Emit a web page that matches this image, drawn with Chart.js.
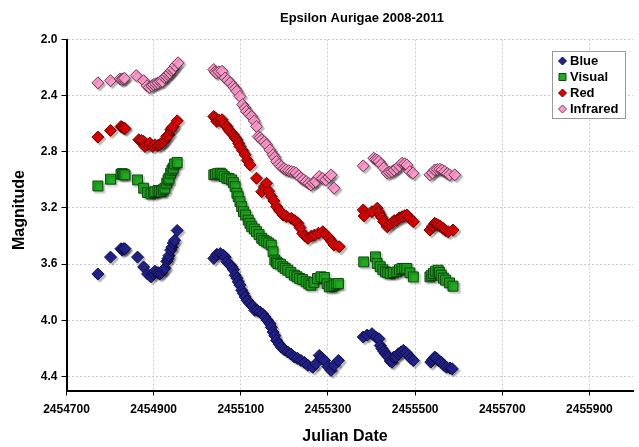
<!DOCTYPE html>
<html>
<head>
  <script src="https://cdn.jsdelivr.net/npm/chart.js"></script>
  <style>
    html, body { margin: 0; padding: 0; background: #fff; overflow: hidden; }
  </style>
</head>
<body>
  <canvas id="chart" width="641" height="447" style="display:block; width:641px; height:447px;"></canvas>

  <script>
    // axis ticks
    const xTicks = [2454700, 2454900, 2455100, 2455300, 2455500, 2455700, 2455900];
    const yTicks = [2.0, 2.4, 2.8, 3.2, 3.6, 4.0, 4.4];
    const seriesNames = ['Blue', 'Visual', 'Red', 'Infrared'];

    // Blue
    const blueJD = [2454772, 2454801, 2454825, 2454828, 2454831, 2454834, 2454863, 2454877, 2454886, 2454894, 2454900, 2454903, 2454910, 2454914, 2454918, 2454922, 2454926, 2454930, 2454933, 2454935, 2454939, 2454942, 2454945, 2454948, 2454954,
      2455038, 2455045, 2455053, 2455060, 2455064, 2455068, 2455074, 2455079, 2455083, 2455087, 2455091, 2455094, 2455098, 2455102, 2455106, 2455110, 2455115, 2455121, 2455127, 2455132, 2455138, 2455144, 2455150, 2455155, 2455161, 2455167, 2455170, 2455174, 2455178, 2455182, 2455188, 2455193, 2455200, 2455208, 2455215, 2455223, 2455230, 2455238, 2455246, 2455254, 2455265, 2455272, 2455280, 2455286, 2455292, 2455300, 2455307, 2455314, 2455324,
      2455381, 2455390, 2455401, 2455410, 2455417, 2455420, 2455424, 2455428, 2455432, 2455436, 2455439, 2455443, 2455447, 2455451, 2455456, 2455462, 2455468, 2455473, 2455479, 2455485, 2455490, 2455496,
      2455536, 2455540, 2455545, 2455549, 2455555, 2455560, 2455566, 2455572, 2455580, 2455585];
    const blueMag = [3.67, 3.55, 3.49, 3.50, 3.49, 3.49, 3.55, 3.62, 3.67, 3.69, 3.67, 3.65, 3.66, 3.67, 3.66, 3.64, 3.63, 3.58, 3.56, 3.54, 3.50, 3.48, 3.45, 3.43, 3.36,
      3.559, 3.53, 3.524, 3.536, 3.55, 3.584, 3.60, 3.619, 3.64, 3.679, 3.70, 3.726, 3.75, 3.786, 3.81, 3.834, 3.86, 3.881, 3.90, 3.929, 3.93, 3.941, 3.955, 3.976, 4.00, 4.024, 4.05, 4.084, 4.11, 4.143, 4.17, 4.191, 4.21, 4.226, 4.24, 4.262, 4.27, 4.286, 4.30, 4.321, 4.334, 4.31, 4.25, 4.27, 4.286, 4.33, 4.357, 4.321, 4.286,
      4.119, 4.105, 4.095, 4.12, 4.131, 4.18, 4.202, 4.22, 4.238, 4.25, 4.262, 4.29, 4.298, 4.262, 4.26, 4.238, 4.225, 4.214, 4.23, 4.25, 4.27, 4.286,
      4.298, 4.28, 4.262, 4.27, 4.29, 4.298, 4.32, 4.334, 4.34, 4.345];

    // Visual
    const visualJD = [2454772, 2454801, 2454825, 2454828, 2454831, 2454834, 2454863, 2454877, 2454886, 2454894, 2454900, 2454903, 2454910, 2454914, 2454918, 2454922, 2454926, 2454930, 2454933, 2454935, 2454939, 2454942, 2454945, 2454948, 2454954,
      2455038, 2455042, 2455047, 2455053, 2455057, 2455062, 2455068, 2455073, 2455079, 2455083, 2455087, 2455091, 2455094, 2455098, 2455102, 2455106, 2455111, 2455117, 2455121, 2455125, 2455131, 2455136, 2455142, 2455148, 2455153, 2455159, 2455164, 2455170, 2455174, 2455178, 2455182, 2455185, 2455191, 2455197, 2455202, 2455208, 2455215, 2455223, 2455229, 2455235, 2455242, 2455250, 2455256, 2455261, 2455268, 2455276, 2455284, 2455292, 2455298, 2455303, 2455309, 2455314, 2455320, 2455324,
      2455382, 2455409, 2455413, 2455420, 2455426, 2455432, 2455437, 2455443, 2455450, 2455458, 2455464, 2455470, 2455476, 2455481, 2455488, 2455496,
      2455534, 2455538, 2455542, 2455547, 2455553, 2455556, 2455560, 2455565, 2455570, 2455579, 2455587];
    const visualMag = [3.043, 2.995, 2.96, 2.955, 2.96, 2.964, 3.00, 3.059, 3.09, 3.10, 3.09, 3.084, 3.076, 3.08, 3.084, 3.07, 3.059, 3.024, 3.00, 2.988, 2.952, 2.93, 2.916, 2.886, 2.876,
      2.964, 2.96, 2.955, 2.952, 2.96, 2.975, 2.988, 2.99, 3.00, 3.02, 3.048, 3.095, 3.12, 3.155, 3.19, 3.226, 3.25, 3.286, 3.31, 3.334, 3.35, 3.369, 3.39, 3.416, 3.43, 3.441, 3.45, 3.464, 3.512, 3.571, 3.585, 3.595, 3.60, 3.619, 3.63, 3.643, 3.66, 3.679, 3.69, 3.702, 3.71, 3.726, 3.74, 3.75, 3.73, 3.702, 3.69, 3.695, 3.74, 3.762, 3.76, 3.75, 3.74, 3.738,
      3.584, 3.548, 3.595, 3.619, 3.64, 3.655, 3.66, 3.667, 3.66, 3.655, 3.64, 3.631, 3.63, 3.631, 3.662, 3.691,
      3.691, 3.68, 3.667, 3.65, 3.643, 3.66, 3.679, 3.70, 3.714, 3.734, 3.757];

    // Red
    const redJD = [2454772, 2454801, 2454825, 2454828, 2454831, 2454834, 2454866, 2454872, 2454877, 2454880, 2454886, 2454891, 2454898, 2454903, 2454910, 2454914, 2454918, 2454922, 2454926, 2454930, 2454935, 2454939, 2454942, 2454945, 2454954,
      2455038, 2455042, 2455045, 2455050, 2455057, 2455064, 2455068, 2455072, 2455077, 2455083, 2455087, 2455091, 2455095, 2455098, 2455104, 2455110, 2455115, 2455121, 2455136, 2455148, 2455154, 2455159, 2455164, 2455170, 2455176, 2455182, 2455189, 2455197, 2455205, 2455216, 2455224, 2455231, 2455236, 2455242, 2455248, 2455254, 2455262, 2455269, 2455278, 2455288, 2455295, 2455303, 2455309, 2455314, 2455326,
      2455381, 2455383, 2455401, 2455413, 2455417, 2455420, 2455424, 2455428, 2455436, 2455441, 2455447, 2455452, 2455458, 2455464, 2455470, 2455476, 2455481, 2455488, 2455496,
      2455534, 2455540, 2455545, 2455549, 2455553, 2455558, 2455564, 2455570, 2455576, 2455587];
    const redMag = [2.695, 2.648, 2.62, 2.624, 2.63, 2.634, 2.714, 2.72, 2.726, 2.762, 2.75, 2.738, 2.762, 2.75, 2.755, 2.75, 2.74, 2.73, 2.714, 2.69, 2.679, 2.643, 2.63, 2.619, 2.579,
      2.548, 2.56, 2.584, 2.575, 2.571, 2.607, 2.62, 2.643, 2.66, 2.679, 2.70, 2.714, 2.74, 2.762, 2.79, 2.821, 2.86, 2.893, 2.988, 3.084, 3.05, 3.024, 3.08, 3.119, 3.15, 3.191, 3.22, 3.25, 3.26, 3.274, 3.29, 3.309, 3.34, 3.381, 3.40, 3.416, 3.40, 3.393, 3.38, 3.369, 3.39, 3.416, 3.44, 3.464, 3.476,
      3.214, 3.257, 3.226, 3.202, 3.23, 3.25, 3.27, 3.298, 3.334, 3.32, 3.305, 3.29, 3.286, 3.27, 3.262, 3.255, 3.25, 3.274, 3.298,
      3.357, 3.33, 3.309, 3.315, 3.321, 3.33, 3.345, 3.36, 3.369, 3.357];

    // Infrared
    const irJD = [2454772, 2454801, 2454823, 2454827, 2454830, 2454833, 2454860, 2454877, 2454885, 2454890, 2454896, 2454900, 2454905, 2454910, 2454915, 2454920, 2454925, 2454929, 2454933, 2454937, 2454941, 2454945, 2454950, 2454956,
      2455038, 2455041, 2455044, 2455050, 2455057, 2455064, 2455070, 2455076, 2455083, 2455087, 2455091, 2455098, 2455104, 2455110, 2455113, 2455119, 2455125, 2455131, 2455136, 2455140, 2455144, 2455148, 2455154, 2455159, 2455167, 2455174, 2455178, 2455182, 2455188, 2455193, 2455199, 2455204, 2455210, 2455216, 2455222, 2455227, 2455233, 2455238, 2455244, 2455250, 2455256, 2455261, 2455266, 2455272, 2455280, 2455288, 2455295, 2455302, 2455307, 2455314,
      2455381, 2455405, 2455409, 2455413, 2455417, 2455422, 2455428, 2455436, 2455441, 2455447, 2455452, 2455458, 2455464, 2455470, 2455476, 2455481, 2455488, 2455495,
      2455534, 2455540, 2455545, 2455551, 2455557, 2455562, 2455568, 2455574, 2455579, 2455591];
    const irMag = [2.309, 2.293, 2.281, 2.285, 2.28, 2.276, 2.257, 2.293, 2.33, 2.341, 2.33, 2.321, 2.315, 2.309, 2.30, 2.298, 2.27, 2.262, 2.25, 2.238, 2.22, 2.209, 2.186, 2.166,
      2.214, 2.23, 2.238, 2.23, 2.226, 2.274, 2.29, 2.309, 2.334, 2.35, 2.369, 2.405, 2.464, 2.49, 2.512, 2.53, 2.548, 2.58, 2.619, 2.691, 2.70, 2.714, 2.73, 2.75, 2.786, 2.821, 2.84, 2.869, 2.89, 2.905, 2.92, 2.929, 2.935, 2.941, 2.945, 2.952, 2.97, 2.988, 3.00, 3.012, 3.025, 3.036, 3.02, 3.012, 2.976, 2.99, 3.00, 2.98, 2.964, 3.059,
      2.90, 2.845, 2.855, 2.86, 2.869, 2.89, 2.916, 2.952, 2.945, 2.941, 2.93, 2.916, 2.90, 2.881, 2.885, 2.893, 2.941, 2.952,
      2.964, 2.95, 2.929, 2.925, 2.924, 2.93, 2.941, 2.955, 2.964, 2.964];

    const styles = [
      { fill: '#22228c', line: '#0e0e48', shape: 'rectRot', r: 6 },
      { fill: '#20ab20', line: '#0a4a0a', shape: 'rect', r: 7 },
      { fill: '#e00000', line: '#660000', shape: 'rectRot', r: 6 },
      { fill: '#ff99cc', line: '#6b3a52', shape: 'rectRot', r: 6 }
    ];

    function pairs(xs, ys) {
      return xs.map((x, i) => ({ x: x, y: ys[i] }));
    }

    const seriesData = [pairs(blueJD, blueMag), pairs(visualJD, visualMag), pairs(redJD, redMag), pairs(irJD, irMag)];

    const FONT = '"Liberation Sans", Arial, sans-serif';

    // drop shadow under the markers, like the spreadsheet original
    const shadowPlugin = {
      id: 'shadow',
      beforeDatasetsDraw(chart) {
        const c = chart.ctx;
        c.save();
        c.shadowColor = 'rgba(0,0,0,0.28)';
        c.shadowOffsetX = 2;
        c.shadowOffsetY = 2;
        c.shadowBlur = 1.5;
      },
      afterDatasetsDraw(chart) {
        chart.ctx.restore();
      }
    };

    function marker(c, s, x, y, r) {
      c.beginPath();
      if (s.shape === 'rect') {
        c.rect(x - r, y - r, 2 * r, 2 * r);
      } else {
        c.moveTo(x - r, y); c.lineTo(x, y - r); c.lineTo(x + r, y); c.lineTo(x, y + r); c.closePath();
      }
      c.fillStyle = s.fill; c.fill();
      c.lineWidth = 1; c.strokeStyle = s.line; c.stroke();
    }

    // title, axis titles and the boxed legend
    const labelsPlugin = {
      id: 'labels',
      afterDraw(chart) {
        const c = chart.ctx;
        c.save();
        c.fillStyle = '#000';
        c.textAlign = 'center';
        c.textBaseline = 'middle';
        c.font = 'bold 13px ' + FONT;
        c.fillText('Epsilon Aurigae 2008-2011', 362, 18);
        c.font = 'bold 16px ' + FONT;
        c.fillText('Julian Date', 345, 437);
        c.save();
        c.translate(20, 210);
        c.rotate(-Math.PI / 2);
        c.fillText('Magnitude', 0, 0);
        c.restore();

        // legend
        c.fillStyle = '#fff';
        c.fillRect(552.5, 51.5, 73, 67);
        c.strokeStyle = '#9a9a9a';
        c.lineWidth = 1;
        c.strokeRect(552.5, 51.5, 73, 67);
        c.font = 'bold 13px ' + FONT;
        c.textAlign = 'left';
        seriesNames.forEach((name, i) => {
          const y = 61 + i * 16;
          const s = styles[i];
          marker(c, s, 562.5, y, s.shape === 'rect' ? 3.5 : 4);
          c.fillStyle = '#000';
          c.fillText(name, 570, y + 0.5);
        });
        c.restore();
      }
    };

    new Chart(document.getElementById('chart').getContext('2d'), {
      type: 'scatter',
      data: {
        datasets: seriesData.map((d, i) => ({
          label: seriesNames[i],
          data: d,
          pointStyle: styles[i].shape,
          pointRadius: styles[i].r,
          pointBackgroundColor: styles[i].fill,
          pointBorderColor: styles[i].line,
          pointBorderWidth: 1,
          showLine: false,
          order: 4 - i
        }))
      },
      options: {
        responsive: false,
        animation: false,
        layout: { padding: { top: 39.5, left: 0, right: 0, bottom: 0 } },
        plugins: {
          legend: { display: false },
          title: { display: false },
          tooltip: { enabled: false }
        },
        scales: {
          x: {
            type: 'linear',
            min: 2454700,
            max: 2456000,
            afterBuildTicks: s => { s.ticks = xTicks.map(v => ({ value: v })); },
            afterFit: s => { s.height = 56.5; },
            grid: { color: '#cccccc', lineWidth: 1, tickColor: '#000', tickLength: 5, tickBorderDash: [] },
            border: { display: true, color: '#000', width: 2, dash: [2, 2] },
            ticks: {
              color: '#000',
              font: { family: FONT, size: 12, weight: 'bold' },
              padding: 7,
              maxRotation: 0,
              autoSkip: false,
              callback: v => String(v)
            }
          },
          y: {
            type: 'linear',
            reverse: true,
            min: 2.0,
            max: 4.5,
            afterBuildTicks: s => { s.ticks = yTicks.map(v => ({ value: v })); },
            afterFit: s => { s.width = 66.5; },
            grid: { color: '#cccccc', lineWidth: 1, tickColor: '#000', tickLength: 5, tickBorderDash: [] },
            border: { display: true, color: '#000', width: 2, dash: [2, 2] },
            ticks: {
              color: '#000',
              font: { family: FONT, size: 12, weight: 'bold' },
              padding: 4,
              autoSkip: false,
              callback: v => v.toFixed(1)
            }
          }
        }
      },
      plugins: [shadowPlugin, labelsPlugin]
    });
  </script>
</body>
</html>
